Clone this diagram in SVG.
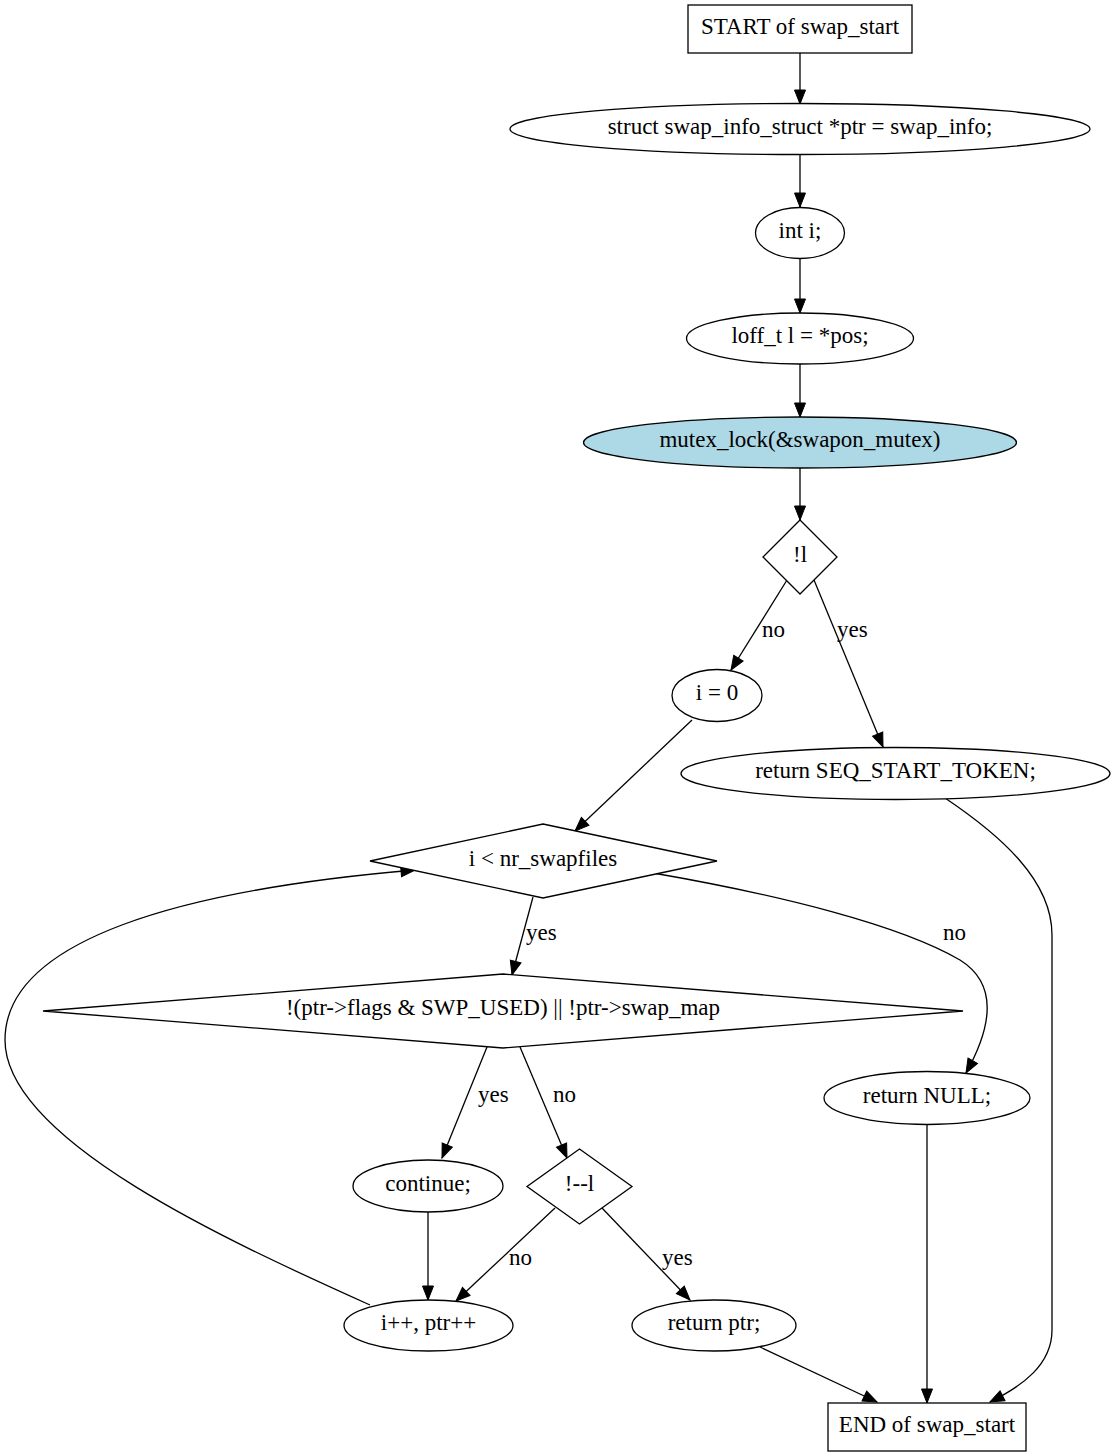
<svg xmlns="http://www.w3.org/2000/svg" width="1115" height="1456" viewBox="0 0 1115 1456">
<style>
.n{fill:#fff;stroke:#000;stroke-width:1.3}
.hl{fill:#add8e6;stroke:#000;stroke-width:1.3}
text{font-family:"Liberation Serif","Times New Roman",serif;font-size:23px;fill:#000}
.c{text-anchor:middle}
.e{fill:none;stroke:#000;stroke-width:1.3;marker-end:url(#ah)}
</style>
<defs>
<marker id="ah" markerUnits="userSpaceOnUse" markerWidth="14" markerHeight="11" refX="14" refY="5.5" orient="auto" overflow="visible">
<path d="M0,0 L14,5.5 L0,11 z" fill="#000" stroke="#000" stroke-width="1"/>
</marker>
</defs>
<rect width="1115" height="1456" fill="#fff"/>
<g id="connectors">
<path class="e" d="M800,53 L800,104"/>
<path class="e" d="M800,154 L800,207"/>
<path class="e" d="M800,258 L800,313"/>
<path class="e" d="M800,364 L800,417"/>
<path class="e" d="M800,468 L800,520"/>
<path class="e" d="M787,580 L731,670"/>
<text x="762" y="637">no</text>
<path class="e" d="M814,580 L883,747"/>
<text x="837" y="637">yes</text>
<path class="e" d="M692,720 L575,831"/>
<path class="e" d="M945,798 C1000,835 1052,880 1052,935 L1052,1330 C1052,1365 1022,1386 990,1402"/>
<path class="e" d="M533,897 L512,975"/>
<text x="526" y="940">yes</text>
<path class="e" d="M653,873 C780,895 900,925 960,960 C1000,985 990,1030 966,1073"/>
<text x="943" y="940">no</text>
<path class="e" d="M487,1047 L442,1158"/>
<text x="478" y="1102">yes</text>
<path class="e" d="M520,1047 L567,1158"/>
<text x="553" y="1102">no</text>
<path class="e" d="M428,1212 L428,1300"/>
<path class="e" d="M555,1208 L456,1301"/>
<text x="509" y="1265">no</text>
<path class="e" d="M602,1208 L690,1300"/>
<text x="662" y="1265">yes</text>
<path class="e" d="M370,1305 C230,1242 5,1140 5,1040 C5,940 180,890 415,870"/>
<path class="e" d="M927,1125 L927,1403"/>
<path class="e" d="M760,1347 L877,1402"/>
</g>
<g id="start"><rect class="n" x="688" y="5" width="224" height="48"/><text class="c" x="800" y="34">START of swap_start</text></g>
<g id="ptr_decl"><ellipse class="n" cx="800" cy="129" rx="290" ry="25.5"/><text class="c" x="800" y="134">struct swap_info_struct *ptr = swap_info;</text></g>
<g id="int_i"><ellipse class="n" cx="800" cy="233" rx="44.5" ry="25.5"/><text class="c" x="800" y="238">int i;</text></g>
<g id="loff"><ellipse class="n" cx="800" cy="338.5" rx="113.5" ry="25.5"/><text class="c" x="800" y="343">loff_t l = *pos;</text></g>
<g id="mutex"><ellipse class="hl" cx="800" cy="442.5" rx="216.5" ry="25.5"/><text class="c" x="800" y="447">mutex_lock(&amp;swapon_mutex)</text></g>
<g id="not_l"><polygon class="n" points="800,520 837,557 800,594 763,557"/><text class="c" x="800" y="562">!l</text></g>
<g id="i_zero"><ellipse class="n" cx="717" cy="695.5" rx="45" ry="26"/><text class="c" x="717" y="700">i = 0</text></g>
<g id="ret_seq"><ellipse class="n" cx="895.5" cy="773.5" rx="214.5" ry="26"/><text class="c" x="895.5" y="778">return SEQ_START_TOKEN;</text></g>
<g id="loop_cond"><polygon class="n" points="543,824 717,861 543,898 370,861"/><text class="c" x="543" y="866">i &lt; nr_swapfiles</text></g>
<g id="flags_cond"><polygon class="n" points="503,974 963,1011 503,1048 43,1011"/><text class="c" x="503" y="1015">!(ptr-&gt;flags &amp; SWP_USED) || !ptr-&gt;swap_map</text></g>
<g id="ret_null"><ellipse class="n" cx="927" cy="1098" rx="103" ry="26.5"/><text class="c" x="927" y="1103">return NULL;</text></g>
<g id="continue"><ellipse class="n" cx="428" cy="1186" rx="75" ry="26"/><text class="c" x="428" y="1191">continue;</text></g>
<g id="dec_l"><polygon class="n" points="579.5,1149 632,1186.5 579.5,1224 527,1186.5"/><text class="c" x="579.5" y="1191">!--l</text></g>
<g id="incr"><ellipse class="n" cx="428.5" cy="1325.5" rx="84.5" ry="25.5"/><text class="c" x="428.5" y="1330">i++, ptr++</text></g>
<g id="ret_ptr"><ellipse class="n" cx="714" cy="1325.5" rx="82" ry="25.5"/><text class="c" x="714" y="1330">return ptr;</text></g>
<g id="end"><rect class="n" x="828" y="1403" width="198" height="48"/><text class="c" x="927" y="1432">END of swap_start</text></g>
</svg>
